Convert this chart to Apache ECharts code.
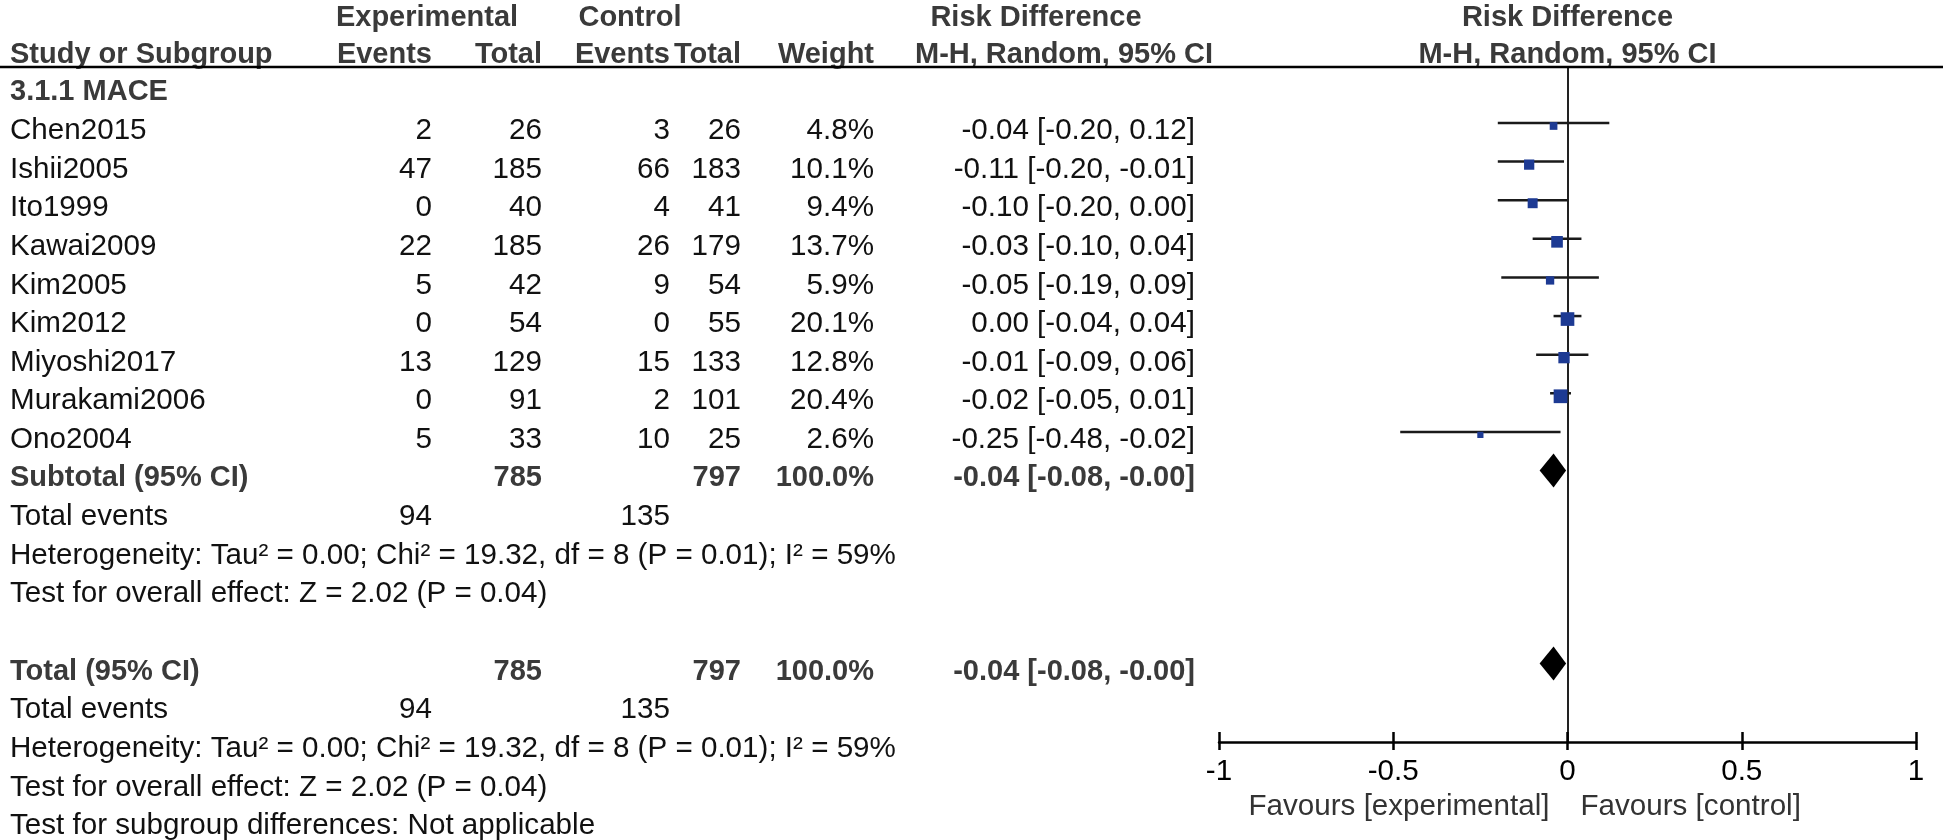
<!DOCTYPE html>
<html>
<head>
<meta charset="utf-8">
<script src="https://cdn.jsdelivr.net/npm/echarts/dist/echarts.min.js"></script>
<style>
  html, body { margin: 0; padding: 0; background: #ffffff; }
  #chart { width: 1946px; height: 840px; }
</style>
</head>
<body>
<div id="chart"></div>
<script>
// ---------------- data ----------------
const groupLabel = '3.1.1 MACE';
const studies    = ['Chen2015', 'Ishii2005', 'Ito1999', 'Kawai2009', 'Kim2005', 'Kim2012', 'Miyoshi2017', 'Murakami2006', 'Ono2004'];
const expEvents  = [2, 47, 0, 22, 5, 0, 13, 0, 5];
const expTotal   = [26, 185, 40, 185, 42, 54, 129, 91, 33];
const ctlEvents  = [3, 66, 4, 26, 9, 0, 15, 2, 10];
const ctlTotal   = [26, 183, 41, 179, 54, 55, 133, 101, 25];
const weights    = [4.8, 10.1, 9.4, 13.7, 5.9, 20.1, 12.8, 20.4, 2.6];
const rdEst      = [-0.04, -0.11, -0.10, -0.03, -0.05, 0.00, -0.01, -0.02, -0.25];
const rdLo       = [-0.20, -0.20, -0.20, -0.10, -0.19, -0.04, -0.09, -0.05, -0.48];
const rdHi       = [0.12, -0.01, 0.00, 0.04, 0.09, 0.04, 0.06, 0.01, -0.02];
const pooledEst  = [-0.04, -0.04];     // subtotal, total
const pooledLo   = [-0.08, -0.08];
const pooledHi   = [-0.004, -0.004];   // shown as -0.00
const pooledWeightLabel = '100.0%';
const hetText      = 'Heterogeneity: Tau\u00B2 = 0.00; Chi\u00B2 = 19.32, df = 8 (P = 0.01); I\u00B2 = 59%';
const overallText  = 'Test for overall effect: Z = 2.02 (P = 0.04)';
const subgroupText = 'Test for subgroup differences: Not applicable';
const xTickValues  = [-1, -0.5, 0, 0.5, 1];
const xTickLabels  = ['-1', '-0.5', '0', '0.5', '1'];
const favoursLeft  = 'Favours [experimental]';
const favoursRight = 'Favours [control]';

// ---------------- style / layout ----------------
const FONT = '"Liberation Sans", Arial, Helvetica, sans-serif';
const FS = 29.6;
const FSB = 29;
const TEXT_COLOR = '#111111';
const BOLD_COLOR = '#3a3a3a';
const SQUARE_COLOR = '#1d3a93';
const TEXT_DY = 8;
const COLS = {
  study: { x: 10,   align: 'left'  },
  expE:  { x: 432,  align: 'right' },
  expT:  { x: 542,  align: 'right' },
  ctlE:  { x: 670,  align: 'right' },
  ctlT:  { x: 741,  align: 'right' },
  wt:    { x: 874,  align: 'right' },
  rd:    { x: 1195, align: 'right' }
};

const sum = a => a.reduce((s, v) => s + v, 0);
const f2 = v => v.toFixed(2);
const ciText = (e, l, h) => f2(e) + ' [' + f2(l) + ', ' + f2(h) + ']';

// row indices (vertical slots)
const studyRows = studies.map((_, i) => i + 1);
const subtotalRow = studies.length + 1;   // 10
const totalRow = subtotalRow + 5;         // 15
const pooledRows = [subtotalRow, totalRow];

// table rows built from data
const tableRows = [];
tableRows.push({ r: 0, cells: [{ col: 'study', t: groupLabel, bold: true }] });
studies.forEach((s, i) => {
  tableRows.push({ r: studyRows[i], cells: [
    { col: 'study', t: s },
    { col: 'expE', t: String(expEvents[i]) },
    { col: 'expT', t: String(expTotal[i]) },
    { col: 'ctlE', t: String(ctlEvents[i]) },
    { col: 'ctlT', t: String(ctlTotal[i]) },
    { col: 'wt',   t: weights[i].toFixed(1) + '%' },
    { col: 'rd',   t: ciText(rdEst[i], rdLo[i], rdHi[i]) }
  ]});
});
function pooledBlock(r, k, title) {
  tableRows.push({ r: r, cells: [
    { col: 'study', t: title, bold: true },
    { col: 'expT', t: String(sum(expTotal)), bold: true },
    { col: 'ctlT', t: String(sum(ctlTotal)), bold: true },
    { col: 'wt',   t: pooledWeightLabel, bold: true },
    { col: 'rd',   t: ciText(pooledEst[k], pooledLo[k], pooledHi[k]), bold: true }
  ]});
  tableRows.push({ r: r + 1, cells: [
    { col: 'study', t: 'Total events' },
    { col: 'expE', t: String(sum(expEvents)) },
    { col: 'ctlE', t: String(sum(ctlEvents)) }
  ]});
  tableRows.push({ r: r + 2, cells: [{ col: 'study', t: hetText }] });
  tableRows.push({ r: r + 3, cells: [{ col: 'study', t: overallText }] });
}
pooledBlock(subtotalRow, 0, 'Subtotal (95% CI)');
pooledBlock(totalRow, 1, 'Total (95% CI)');
tableRows.push({ r: totalRow + 4, cells: [{ col: 'study', t: subgroupText }] });

// ---------------- chart ----------------
const chart = echarts.init(document.getElementById('chart'), null, { renderer: 'canvas' });

const GRID_TOP = 67, GRID_BOTTOM_Y = 742;
const ROW_PX = 38.61;
const FIRST_ROW_Y = 123;   // pixel of row 1 marker
const yMin = 1 - (FIRST_ROW_Y - GRID_TOP) / ROW_PX;
const yMax = yMin + (GRID_BOTTOM_Y - GRID_TOP) / ROW_PX;

function textEl(x, y, text, bold, align, color) {
  return {
    type: 'text', x: x, y: y,
    style: {
      text: text,
      font: (bold ? 'bold ' + FSB : FS) + 'px ' + FONT,
      fill: color || (bold ? BOLD_COLOR : TEXT_COLOR),
      align: align, verticalAlign: 'middle'
    }
  };
}

const option = {
  animation: false,
  backgroundColor: '#ffffff',
  grid: { left: 1219, right: 30, top: GRID_TOP, bottom: 840 - GRID_BOTTOM_Y, containLabel: false },
  xAxis: [
    {
      type: 'value', min: -1, max: 1, interval: 0.5, position: 'bottom',
      axisLine: { show: true, onZero: false, lineStyle: { color: '#000', width: 2.5 } },
      axisTick: { show: true, inside: true, length: 10, lineStyle: { color: '#000', width: 2.5 } },
      axisLabel: {
        show: true, margin: 15, color: '#000', fontSize: FS, fontFamily: FONT,
        formatter: v => { const i = xTickValues.indexOf(v); return i >= 0 ? xTickLabels[i] : ''; }
      },
      splitLine: { show: false }
    },
    {
      type: 'value', min: -1, max: 1, interval: 0.5, position: 'bottom',
      axisLine: { show: false, onZero: false },
      axisTick: { show: true, inside: false, length: 8, lineStyle: { color: '#000', width: 2.5 } },
      axisLabel: { show: false },
      splitLine: { show: false }
    }
  ],
  yAxis: {
    type: 'value', inverse: true, min: yMin, max: yMax,
    axisLine: { show: true, onZero: true, lineStyle: { color: '#222', width: 2 } },
    axisTick: { show: false }, axisLabel: { show: false }, splitLine: { show: false }
  },
  series: [
    {
      name: 'ci', type: 'custom', xAxisIndex: 0,
      data: studies.map((_, i) => [rdLo[i], rdHi[i], studyRows[i]]),
      encode: { x: [0, 1], y: 2 },
      renderItem: (params, api) => {
        const p1 = api.coord([api.value(0), api.value(2)]);
        const p2 = api.coord([api.value(1), api.value(2)]);
        return { type: 'line', shape: { x1: p1[0], y1: p1[1], x2: p2[0], y2: p2[1] },
                 style: { stroke: '#1a1a1a', lineWidth: 2.5 } };
      },
      z: 3
    },
    {
      name: 'est', type: 'scatter', xAxisIndex: 0,
      data: studies.map((_, i) => [rdEst[i], studyRows[i], weights[i]]),
      symbol: 'rect',
      symbolSize: d => 2 + 2.6 * Math.sqrt(d[2]),
      symbolOffset: [0, 3],
      itemStyle: { color: SQUARE_COLOR, opacity: 1 },
      z: 4
    },
    {
      name: 'pooled', type: 'custom', xAxisIndex: 0,
      data: pooledRows.map((r, k) => [pooledEst[k], pooledLo[k], pooledHi[k], r]),
      encode: { x: [0, 1, 2], y: 3 },
      renderItem: (params, api) => {
        const r = api.value(3);
        const pe = api.coord([api.value(0), r]);
        const pl = api.coord([api.value(1), r]);
        const ph = api.coord([api.value(2), r]);
        const h = 17;
        return { type: 'polygon',
                 shape: { points: [[pl[0], pe[1]], [pe[0], pe[1] - h], [ph[0], pe[1]], [pe[0], pe[1] + h]] },
                 style: { fill: '#000' } };
      },
      z: 4
    },
    {
      name: 'table', type: 'custom', xAxisIndex: 0, clip: false,
      data: tableRows.map(row => [0, row.r]),
      encode: { x: 0, y: 1 },
      renderItem: (params, api) => {
        const row = tableRows[params.dataIndex];
        const y = api.coord([0, row.r])[1] + TEXT_DY;
        return { type: 'group', children: row.cells.map(c =>
          textEl(COLS[c.col].x, y, c.t, !!c.bold, COLS[c.col].align)) };
      },
      z: 5
    }
  ]
};
chart.setOption(option);

// headers & decorations
const x0 = chart.convertToPixel({ xAxisIndex: 0 }, 0);
const H1 = 18, H2 = 55;
chart.setOption({
  graphic: [
    { type: 'line', shape: { x1: 0, y1: GRID_TOP, x2: 1943, y2: GRID_TOP }, style: { stroke: '#000', lineWidth: 2.5 }, z: 10 },
    textEl(427, H1, 'Experimental', true, 'center'),
    textEl(630, H1, 'Control', true, 'center'),
    textEl(1036, H1, 'Risk Difference', true, 'center'),
    textEl(x0, H1, 'Risk Difference', true, 'center'),
    textEl(COLS.study.x, H2, 'Study or Subgroup', true, 'left'),
    textEl(COLS.expE.x, H2, 'Events', true, 'right'),
    textEl(COLS.expT.x, H2, 'Total', true, 'right'),
    textEl(COLS.ctlE.x, H2, 'Events', true, 'right'),
    textEl(COLS.ctlT.x, H2, 'Total', true, 'right'),
    textEl(COLS.wt.x, H2, 'Weight', true, 'right'),
    textEl(915, H2, 'M-H, Random, 95% CI', true, 'left'),
    textEl(x0, H2, 'M-H, Random, 95% CI', true, 'center'),
    textEl(x0 - 18, 807, favoursLeft, false, 'right', '#333'),
    textEl(x0 + 13, 807, favoursRight, false, 'left', '#333')
  ]
});
</script>
</body>
</html>
